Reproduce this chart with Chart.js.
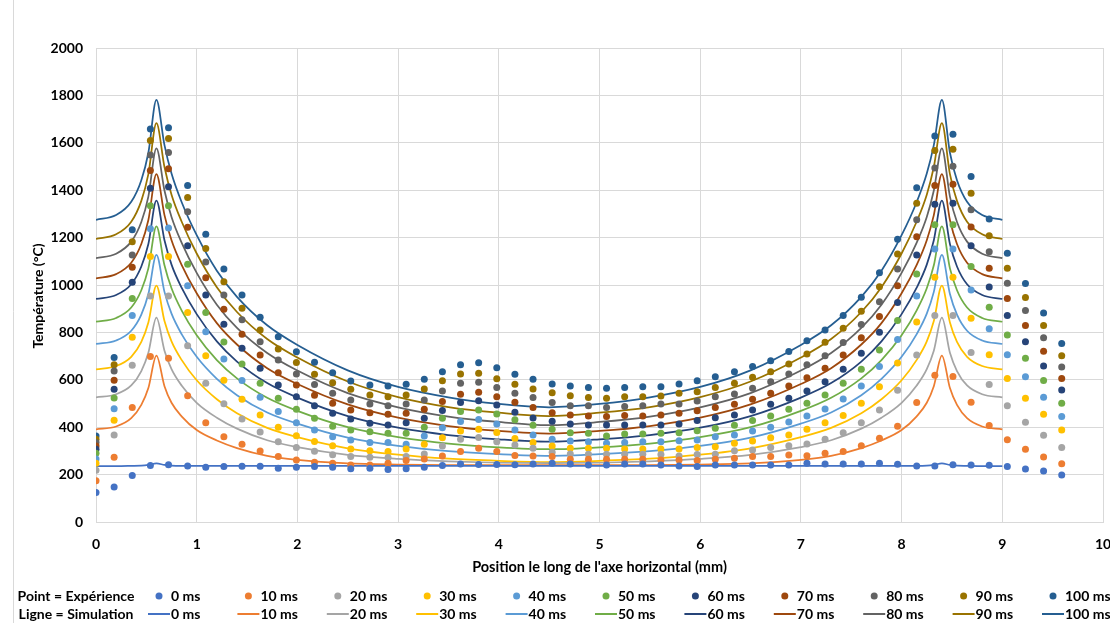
<!DOCTYPE html>
<html>
<head>
<meta charset="utf-8">
<script src="https://cdn.jsdelivr.net/npm/chart.js@4.4.1/dist/chart.umd.min.js"></script>
<style>
  html, body { margin: 0; padding: 0; background: #fff; }
  #wrap { width: 1110px; height: 623px; }
</style>
</head>
<body>
<div id="wrap"><canvas id="tempChart" width="1110" height="623"></canvas></div>
<script>
// Time steps and Excel palette
const timeLabels = ['0 ms', '10 ms', '20 ms', '30 ms', '40 ms', '50 ms', '60 ms', '70 ms', '80 ms', '90 ms', '100 ms']
const seriesColors = ['#4472C4', '#ED7D31', '#A5A5A5', '#FFC000', '#5B9BD5', '#70AD47', '#264478', '#9E480E', '#636363', '#997300', '#255E91']

// Experiment (points) - positions in mm
const expX = [0, 0.18, 0.36, 0.54, 0.72, 0.91, 1.09, 1.27, 1.45, 1.63, 1.81, 1.99, 2.17, 2.35, 2.53, 2.72, 2.90, 3.08, 3.26, 3.44, 3.62, 3.80, 3.98, 4.16, 4.34, 4.53, 4.71, 4.89, 5.07, 5.25, 5.43, 5.61, 5.79, 5.97, 6.15, 6.34, 6.52, 6.70, 6.88, 7.06, 7.24, 7.42, 7.60, 7.78, 7.96, 8.15, 8.33, 8.51, 8.69, 8.87, 9.05, 9.23, 9.41, 9.59]

const exp0 = [124, 148, 196, 238, 242, 236, 231, 234, 235, 235, 227, 231, 234, 231, 225, 227, 222, 225, 231, 238, 245, 243, 243, 242, 245, 248, 245, 241, 241, 245, 245, 241, 236, 234, 241, 241, 241, 241, 241, 248, 245, 245, 245, 248, 244, 236, 236, 242, 241, 239, 234, 224, 215, 198]
const exp10 = [174, 273, 483, 698, 691, 533, 419, 360, 328, 300, 276, 262, 252, 248, 241, 241, 248, 259, 266, 279, 297, 311, 297, 281, 279, 276, 265, 265, 265, 265, 265, 262, 262, 259, 265, 269, 276, 276, 283, 280, 290, 297, 322, 353, 404, 504, 619, 614, 505, 407, 347, 307, 274, 246]
const exp20 = [218, 367, 661, 954, 954, 744, 585, 499, 435, 380, 339, 314, 298, 284, 276, 273, 272, 276, 287, 321, 349, 357, 339, 325, 311, 294, 287, 286, 286, 286, 286, 285, 279, 285, 286, 301, 304, 314, 322, 329, 349, 377, 419, 473, 556, 705, 871, 871, 715, 580, 491, 421, 366, 314]
const exp30 = [248, 429, 780, 1120, 1120, 884, 701, 598, 518, 452, 400, 364, 340, 322, 308, 301, 297, 308, 328, 356, 384, 391, 378, 352, 335, 321, 311, 311, 311, 308, 308, 308, 308, 314, 318, 332, 342, 355, 367, 391, 419, 449, 501, 571, 671, 844, 1033, 1033, 860, 706, 605, 522, 455, 388]
const exp40 = [266, 478, 871, 1237, 1240, 997, 803, 688, 597, 526, 466, 419, 388, 360, 346, 335, 335, 328, 363, 398, 424, 433, 414, 388, 367, 349, 342, 339, 332, 335, 339, 339, 343, 346, 360, 367, 384, 400, 422, 447, 477, 519, 574, 656, 770, 954, 1152, 1152, 979, 815, 706, 613, 526, 445]
const exp50 = [290, 523, 943, 1334, 1334, 1088, 884, 760, 667, 585, 522, 476, 438, 404, 388, 381, 374, 374, 400, 438, 466, 473, 456, 431, 408, 391, 377, 374, 363, 371, 371, 374, 377, 385, 396, 408, 428, 447, 476, 501, 536, 585, 645, 726, 850, 1046, 1254, 1254, 1078, 906, 789, 691, 597, 501]
const exp60 = [307, 560, 1012, 1408, 1415, 1166, 958, 834, 733, 649, 578, 529, 490, 459, 435, 417, 409, 419, 438, 470, 504, 512, 494, 463, 439, 425, 414, 409, 409, 409, 409, 409, 414, 428, 440, 452, 473, 497, 522, 553, 592, 645, 712, 801, 926, 1127, 1341, 1345, 1166, 992, 871, 761, 658, 557]
const exp70 = [321, 598, 1075, 1483, 1491, 1244, 1031, 898, 792, 705, 630, 578, 535, 501, 473, 461, 455, 459, 476, 508, 539, 547, 529, 505, 483, 461, 452, 447, 445, 449, 447, 452, 459, 469, 483, 497, 518, 543, 574, 609, 649, 705, 777, 867, 997, 1204, 1420, 1425, 1245, 1071, 943, 829, 720, 606]
const exp80 = [335, 637, 1127, 1548, 1559, 1309, 1097, 958, 853, 761, 684, 625, 580, 543, 515, 498, 490, 498, 515, 553, 585, 590, 568, 543, 525, 504, 491, 490, 483, 487, 490, 498, 498, 511, 529, 540, 564, 592, 625, 663, 701, 757, 833, 929, 1067, 1275, 1494, 1501, 1318, 1140, 1007, 892, 777, 654]
const exp90 = [349, 663, 1183, 1610, 1618, 1369, 1154, 1014, 902, 810, 730, 673, 623, 588, 560, 536, 529, 536, 561, 596, 625, 628, 604, 581, 561, 545, 533, 525, 522, 529, 529, 532, 543, 550, 567, 585, 611, 634, 667, 709, 758, 818, 889, 993, 1131, 1345, 1567, 1573, 1387, 1208, 1071, 947, 829, 702]
const exp100 = [363, 694, 1233, 1658, 1663, 1420, 1214, 1068, 958, 864, 782, 718, 674, 630, 595, 578, 574, 581, 602, 634, 663, 672, 651, 623, 602, 582, 574, 567, 564, 567, 571, 571, 582, 596, 613, 634, 656, 680, 719, 765, 810, 871, 948, 1052, 1193, 1410, 1629, 1636, 1458, 1278, 1134, 1006, 882, 753]

// Simulation (lines) - positions in mm
const simX = [0, 0.2, 0.35, 0.45, 0.52, 0.6, 0.68, 0.75, 0.85, 1.0, 1.2, 1.4, 1.7, 2.0, 2.5, 3.0, 3.5, 4.0, 4.5, 5.0, 5.5, 6.0, 6.5, 7.0, 7.3, 7.6, 7.8, 8.0, 8.15, 8.25, 8.32, 8.4, 8.48, 8.55, 8.65, 8.8, 9.0]

const sim0 = [236, 236, 237, 238, 241, 247, 241, 238, 237, 237, 237, 237, 237, 237, 237, 237, 237, 237, 237, 237, 237, 237, 237, 237, 237, 237, 237, 237, 237, 238, 241, 247, 241, 238, 237, 236, 236]
const sim10 = [391, 403, 438, 494, 565, 702, 573, 503, 446, 388, 344, 312, 279, 262, 247, 242, 240, 240, 240, 240, 240, 242, 247, 262, 279, 312, 344, 388, 446, 503, 573, 702, 565, 494, 438, 403, 391]
const sim20 = [526, 539, 576, 637, 714, 862, 723, 645, 576, 503, 440, 394, 345, 316, 283, 266, 256, 250, 248, 250, 256, 266, 283, 316, 345, 394, 440, 503, 576, 645, 723, 862, 714, 637, 576, 539, 526]
const sim30 = [644, 658, 697, 760, 842, 997, 848, 762, 684, 598, 518, 459, 397, 358, 311, 284, 267, 258, 253, 258, 267, 284, 311, 358, 397, 459, 518, 598, 684, 762, 848, 997, 842, 760, 697, 658, 644]
const sim40 = [751, 766, 807, 875, 962, 1127, 971, 879, 793, 697, 604, 535, 462, 415, 356, 321, 299, 286, 279, 286, 299, 321, 356, 415, 462, 535, 604, 697, 793, 879, 971, 1127, 962, 875, 807, 766, 751]
const sim50 = [845, 861, 905, 978, 1070, 1247, 1083, 986, 893, 788, 683, 606, 524, 469, 400, 358, 331, 315, 307, 315, 331, 358, 400, 469, 524, 606, 683, 788, 893, 986, 1083, 1247, 1070, 978, 905, 861, 845]
const sim60 = [941, 958, 1003, 1078, 1173, 1356, 1189, 1086, 989, 877, 762, 677, 586, 525, 447, 398, 367, 349, 339, 349, 367, 398, 447, 525, 586, 677, 762, 877, 989, 1086, 1189, 1356, 1173, 1078, 1003, 958, 941]
const sim70 = [1028, 1046, 1094, 1173, 1274, 1468, 1295, 1189, 1085, 965, 839, 749, 649, 582, 496, 440, 405, 384, 373, 384, 405, 440, 496, 582, 649, 749, 839, 965, 1085, 1189, 1295, 1468, 1274, 1173, 1094, 1046, 1028]
const sim80 = [1113, 1132, 1183, 1266, 1373, 1577, 1399, 1287, 1179, 1051, 917, 819, 713, 639, 544, 484, 445, 422, 409, 422, 445, 484, 544, 639, 713, 819, 917, 1051, 1179, 1287, 1399, 1577, 1373, 1266, 1183, 1132, 1113]
const sim90 = [1194, 1214, 1267, 1355, 1468, 1683, 1498, 1381, 1268, 1133, 991, 886, 772, 694, 593, 527, 485, 461, 447, 461, 485, 527, 593, 694, 772, 886, 991, 1133, 1268, 1381, 1498, 1683, 1468, 1355, 1267, 1214, 1194]
const sim100 = [1275, 1295, 1351, 1442, 1558, 1781, 1590, 1470, 1350, 1210, 1060, 950, 830, 747, 640, 570, 526, 498, 484, 498, 526, 570, 640, 747, 830, 950, 1060, 1210, 1350, 1470, 1590, 1781, 1558, 1442, 1351, 1295, 1275]

// Axis ticks
const xTicks = [0, 1, 2, 3, 4, 5, 6, 7, 8, 9, 10]
const yTicks = [0, 200, 400, 600, 800, 1000, 1200, 1400, 1600, 1800, 2000]

const expSeries = [exp0, exp10, exp20, exp30, exp40, exp50, exp60, exp70, exp80, exp90, exp100]
const simSeries = [sim0, sim10, sim20, sim30, sim40, sim50, sim60, sim70, sim80, sim90, sim100]

const FONT = 'Lato, "Open Sans", sans-serif'
const gridColor = '#D9D9D9'

function toPoints(xs, ys) {
  return xs.map((x, i) => ({ x, y: ys[i] }))
}

const datasets = []
expSeries.forEach((ys, k) => {
  datasets.push({
    type: 'scatter',
    label: timeLabels[k],
    data: toPoints(expX, ys),
    backgroundColor: seriesColors[k],
    borderColor: seriesColors[k],
    pointRadius: 3.5,
    pointBorderWidth: 0,
    showLine: false,
    order: 0
  })
})
simSeries.forEach((ys, k) => {
  datasets.push({
    type: 'line',
    label: timeLabels[k],
    data: toPoints(simX, ys),
    borderColor: seriesColors[k],
    backgroundColor: seriesColors[k],
    borderWidth: 1.75,
    pointRadius: 0,
    cubicInterpolationMode: 'monotone',
    fill: false,
    order: 1
  })
})

// Y title, two-row legend and the outer chart frame edge
const comboLegend = {
  id: 'comboLegend',
  afterDraw(chart) {
    const ctx = chart.ctx
    const rowPts = 596
    const rowLines = 614
    ctx.save()
    ctx.strokeStyle = gridColor
    ctx.lineWidth = 1
    ctx.beginPath()
    ctx.moveTo(13.5, 0)
    ctx.lineTo(13.5, 623)
    ctx.stroke()

    // y axis title (sits a bit below the plot centre in the original)
    ctx.save()
    ctx.translate(38, 296)
    ctx.rotate(-Math.PI / 2)
    ctx.font = 'bold 14px ' + FONT
    ctx.fillStyle = '#000'
    ctx.textAlign = 'center'
    ctx.textBaseline = 'middle'
    ctx.fillText('Température (°C)', 0, 0)
    ctx.restore()

    ctx.font = 'bold 14px ' + FONT
    ctx.textBaseline = 'middle'
    ctx.fillStyle = '#000'
    ctx.textAlign = 'center'
    ctx.fillText('Point = Expérience', 76, rowPts)
    ctx.fillText('Ligne = Simulation', 76, rowLines)
    ctx.textAlign = 'left'
    timeLabels.forEach((lab, k) => {
      const cx = 159 + k * 89.4
      ctx.fillStyle = seriesColors[k]
      ctx.beginPath()
      ctx.arc(cx, rowPts, 3.5, 0, Math.PI * 2)
      ctx.fill()
      ctx.strokeStyle = seriesColors[k]
      ctx.lineWidth = 2
      ctx.beginPath()
      ctx.moveTo(cx - 11, rowLines)
      ctx.lineTo(cx + 11, rowLines)
      ctx.stroke()
      ctx.fillStyle = '#000'
      ctx.fillText(lab, cx + 12, rowPts)
      ctx.fillText(lab, cx + 12, rowLines)
    })
    ctx.restore()
  }
}

new Chart(document.getElementById('tempChart'), {
  data: { datasets },
  options: {
    responsive: false,
    animation: false,
    layout: { padding: { left: 0, right: 7, top: 48, bottom: 45 } },
    plugins: {
      legend: { display: false },
      tooltip: { enabled: false }
    },
    scales: {
      x: {
        type: 'linear',
        min: 0,
        max: 10,
        afterBuildTicks: (scale) => { scale.ticks = xTicks.map(v => ({ value: v })) },
        afterFit: (scale) => {
          scale.height = 56
          scale.paddingLeft = 0
          scale.paddingRight = 0
        },
        ticks: { color: '#000', padding: 14, font: { family: FONT, size: 14, weight: 'bold' } },
        grid: { color: gridColor, drawTicks: false },
        border: { color: gridColor },
        title: {
          display: true,
          text: "Position le long de l'axe horizontal (mm)",
          color: '#000',
          font: { family: FONT, size: 14.5, weight: 'bold' },
          padding: { top: 0, bottom: 2 }
        }
      },
      y: {
        type: 'linear',
        min: 0,
        max: 2000,
        afterBuildTicks: (scale) => { scale.ticks = yTicks.map(v => ({ value: v })) },
        afterFit: (scale) => { scale.width = 96 },
        ticks: {
          color: '#000',
          padding: 13,
          font: { family: FONT, size: 14, weight: 'bold' },
          callback: (v) => String(v)
        },
        grid: { color: gridColor, drawTicks: false },
        border: { color: gridColor },
        title: { display: false }
      }
    }
  },
  plugins: [comboLegend]
})
</script>
</body>
</html>
